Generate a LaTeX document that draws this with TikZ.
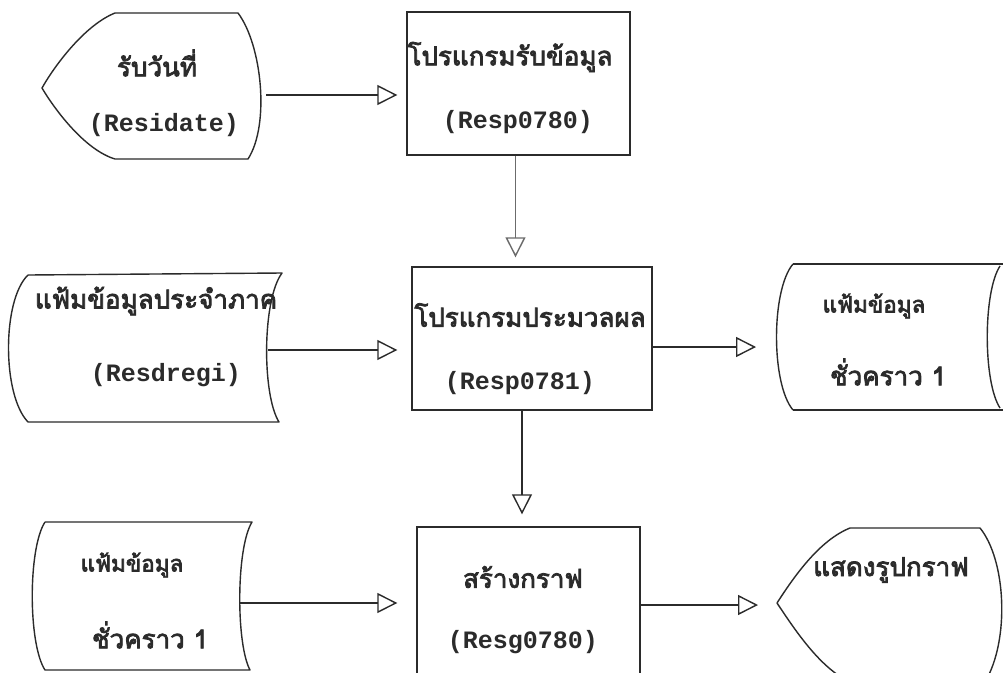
\documentclass[tikz,border=0pt]{standalone}
\usepackage{fontspec}
\setmainfont{Liberation Serif}
\newfontfamily\thaifont[Script=Thai, FakeBold=3]{Loma}
\newfontfamily\latfont{Liberation Mono}
\usetikzlibrary{arrows.meta}
\definecolor{ink}{HTML}{2B2B2B}
\tikzset{
  shapeline/.style={draw=ink, line width=1.4pt, line join=round},
  procbox/.style={draw=ink, line width=1.4pt, rectangle, inner sep=0pt},
  flow/.style={draw=ink, line width=1.4pt, -{Triangle[open, length=20pt, width=20pt, line width=1.4pt]}},
  thlabel/.style={text=ink, inner sep=0pt, font=\thaifont\fontsize{26}{28}\selectfont},
  thsmall/.style={text=ink, inner sep=0pt, font=\thaifont\fontsize{22.5}{26}\selectfont},
  enlabel/.style={text=ink, inner sep=0pt, font=\latfont\bfseries\fontsize{25}{27}\selectfont},
}
\begin{document}
\begin{tikzpicture}[x=1pt, y=-1pt]
\useasboundingbox (0,0) rectangle (1003,672);
\fill[white] (0,0) rectangle (1003,672);

% display shape: receive date
\draw[shapeline] (115,13) -- (238,13) .. controls (262,45) and (270,125) .. (248,159) -- (115,159)
  .. controls (85,150) and (55,110) .. (42,88) .. controls (55,65) and (85,25) .. (115,13);
\coordinate (d1out) at (266,95);
\node[thlabel] (t1a) at (157,63) {รับวันที่};
\node[enlabel] (t1b) at (164,125) {(Residate)};

% box 1
\node[procbox, minimum width=223pt, minimum height=143pt] (b1) at (518.5,83.5) {};
\node[thlabel] (t2a) at (510,57) {โปรแกรมรับข้อมูล};
\node[enlabel] (t2b) at (518,122) {(Resp0780)};

% stored data 1
\draw[shapeline] (28,275) -- (282,273) .. controls (262,300) and (262,395) .. (279,422) -- (28,422)
  .. controls (2,395) and (2,300) .. (28,275);
\coordinate (s1out) at (268,350);
\node[thlabel] (t3a) at (156,301) {แฟ้มข้อมูลประจำภาค};
\node[enlabel] (t3b) at (166,375) {(Resdregi)};

% box 2
\node[procbox, minimum width=240pt, minimum height=143pt] (b2) at (532,338.5) {};
\node[thlabel] (t4a) at (530,315) {โปรแกรมประมวลผล};
\node[enlabel] (t4b) at (520,383) {(Resp0781)};

% stored data 2 (right)
\draw[shapeline] (793,264) -- (1003,264);
\draw[shapeline] (793,410) -- (1003,410);
\draw[shapeline] (793,264) .. controls (771,290) and (771,384) .. (793,410);
\draw[shapeline] (1000,266) .. controls (983,292) and (983,382) .. (1000,408);
\coordinate (s2in) at (777,347);
\node[thsmall] (t5a) at (874,306) {แฟ้มข้อมูล};
\node[thlabel] (t5b) at (888,372) {ชั่วคราว 1};

% stored data 3 (bottom left)
\draw[shapeline] (45,522) -- (252,522) .. controls (236,548) and (236,644) .. (250,670) -- (45,670)
  .. controls (28,644) and (28,548) .. (45,522);
\coordinate (s3out) at (240,603);
\node[thsmall] (t6a) at (132,565) {แฟ้มข้อมูล};
\node[thlabel] (t6b) at (150,635) {ชั่วคราว 1};

% box 3
\node[procbox, minimum width=223pt, minimum height=150pt] (b3) at (528.5,602) {};
\node[thlabel] (t7a) at (523,577) {สร้างกราฟ};
\node[enlabel] (t7b) at (523,642) {(Resg0780)};

% display shape: show graph
\draw[shapeline] (777,603) .. controls (795,575) and (820,540) .. (850,528) -- (980,528)
  .. controls (1006,560) and (1010,640) .. (985,682) -- (850,682)
  .. controls (820,668) and (795,630) .. (777,603);
\coordinate (d2in) at (777,605);
\node[thlabel] (t8a) at (891,570) {แสดงรูปกราฟ};

% connectors
\draw[flow, shorten >=9pt] (d1out) -- (d1out -| b1.west);
\draw[flow, draw=ink!70, shorten >=9pt] ([xshift=-3pt]b1.south) -- ([xshift=-3pt]b1.south |- b2.north);
\draw[flow, shorten >=14pt] (s1out) -- (s1out -| b2.west);
\draw[flow, shorten >=21pt] (b2.east |- s2in) -- (s2in);
\draw[flow, shorten >=12pt] ([xshift=-10pt]b2.south) -- ([xshift=-10pt]b2.south |- b3.north);
\draw[flow, shorten >=19pt] (s3out) -- (s3out -| b3.west);
\draw[flow, shorten >=19pt] (b3.east |- d2in) -- (d2in);
\end{tikzpicture}
\end{document}
